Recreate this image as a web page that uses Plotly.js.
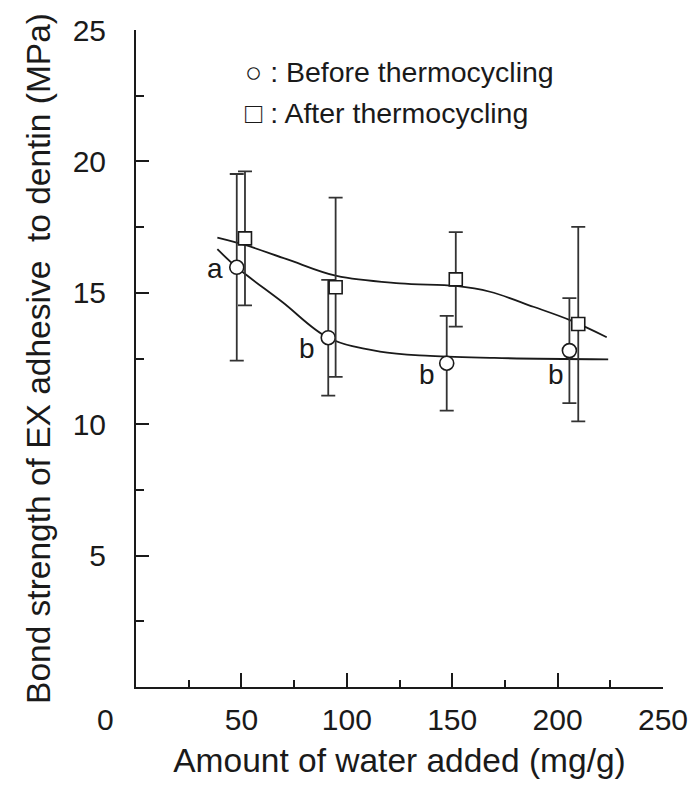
<!DOCTYPE html>
<html>
<head>
<meta charset="utf-8">
<script src="https://cdn.plot.ly/plotly-3.0.1.min.js"></script>
<style>html,body{margin:0;padding:0;background:#fff;}#chart{width:696px;height:785px;}</style>
</head>
<body>
<div id="chart"></div>
<script>
// Measured points (mean ± SD)
const beforeX = [47.8, 91.2, 147.4, 205.6];
const beforeY = [15.97, 13.29, 12.32, 12.80];
const beforeErr = [3.55, 2.2, 1.8, 2.0];

const afterX = [51.7, 94.7, 151.7, 209.8];
const afterY = [17.07, 15.21, 15.51, 13.81];
const afterErr = [2.55, 3.41, 1.8, 3.7];

// Fitted curves
const beforeFitX = [38.6, 47.8, 69.4, 91.2, 115.7, 139.5, 170, 224];
const beforeFitY = [16.66, 15.97, 14.65, 13.29, 12.76, 12.6, 12.52, 12.47];
const afterFitX = [38.6, 51.7, 71.5, 95.2, 125.2, 151.7, 167.9, 188.5, 205.9, 223.3];
const afterFitY = [17.1, 16.82, 16.28, 15.64, 15.36, 15.26, 15.04, 14.47, 13.96, 13.31];

// Significance letters
const letterText = ['a', 'b', 'b', 'b'];
const letterX = [37.5, 81, 137.9, 199.2];
const letterY = [15.93, 12.89, 11.91, 11.91];

const xTicks = [50, 100, 150, 200, 250];
const yTicks = [5, 10, 15, 20, 25];

const legendLabels = ['\u25CB : Before thermocycling', '\u25A1 : After thermocycling'];

const ink = '#1a1a1a';
const fontFam = '"Liberation Sans", Arial, sans-serif';

const traces = [
  {x: beforeFitX, y: beforeFitY, mode: 'lines', line: {shape: 'spline', color: ink, width: 1.8}, hoverinfo: 'skip', showlegend: false},
  {x: afterFitX, y: afterFitY, mode: 'lines', line: {shape: 'spline', color: ink, width: 1.8}, hoverinfo: 'skip', showlegend: false},
  {x: beforeX, y: beforeY, mode: 'markers', name: 'Before thermocycling',
   error_y: {type: 'data', array: beforeErr, visible: true, color: '#333', thickness: 1.8, width: 7},
   marker: {symbol: 'circle', size: 14, color: '#fff', line: {color: ink, width: 1.6}}, showlegend: false},
  {x: afterX, y: afterY, mode: 'markers', name: 'After thermocycling',
   error_y: {type: 'data', array: afterErr, visible: true, color: '#333', thickness: 1.8, width: 7},
   marker: {symbol: 'square', size: 13, color: '#fff', line: {color: ink, width: 1.6}}, showlegend: false}
];

const annotations = letterText.map((t, i) => ({
  x: letterX[i], y: letterY[i], xref: 'x', yref: 'y', text: t, showarrow: false,
  font: {family: fontFam, size: 28, color: ink}, xanchor: 'center', yanchor: 'middle'
}));
annotations.push({x: 0.203, y: 0.936, xref: 'paper', yref: 'paper', text: legendLabels[0], showarrow: false,
  xanchor: 'left', yanchor: 'middle', font: {family: fontFam, size: 28.5, color: ink}});
annotations.push({x: 0.203, y: 0.8737, xref: 'paper', yref: 'paper', text: legendLabels[1], showarrow: false,
  xanchor: 'left', yanchor: 'middle', font: {family: fontFam, size: 28.5, color: ink}});
annotations.push({x: -0.0588, y: -0.0502, xref: 'paper', yref: 'paper', text: '0', showarrow: false,
  xanchor: 'center', yanchor: 'middle', font: {family: fontFam, size: 30, color: ink}});

const layout = {
  width: 696, height: 785,
  margin: {l: 136, r: 33, t: 30, b: 98},
  paper_bgcolor: '#fff', plot_bgcolor: '#fff',
  showlegend: false,
  font: {family: fontFam, color: ink},
  xaxis: {
    range: [0, 250], showgrid: false, zeroline: false,
    showline: true, linecolor: ink, linewidth: 2,
    tickmode: 'array', tickvals: xTicks, ticktext: xTicks.map(String),
    ticks: 'inside', ticklen: 14, tickwidth: 2, tickcolor: ink,
    minor: {dtick: 25, tick0: 0, ticks: 'inside', ticklen: 7, tickwidth: 2, tickcolor: ink},
    tickfont: {family: fontFam, size: 30, color: ink},
    ticklabelstandoff: 5,
    title: {text: 'Amount of water added (mg/g)', font: {family: fontFam, size: 33.5, color: ink}, standoff: 14}
  },
  yaxis: {
    range: [0, 25], showgrid: false, zeroline: false,
    showline: true, linecolor: ink, linewidth: 2,
    tickmode: 'array', tickvals: yTicks, ticktext: yTicks.map(String),
    ticks: 'inside', ticklen: 13, tickwidth: 2, tickcolor: ink,
    minor: {dtick: 2.5, tick0: 0, ticks: 'inside', ticklen: 8, tickwidth: 2, tickcolor: ink},
    tickfont: {family: fontFam, size: 30, color: ink},
    ticklabelstandoff: 22,
    title: {text: 'Bond strength of EX adhesive&nbsp; to dentin (MPa)', font: {family: fontFam, size: 33.5, color: ink}, standoff: 12}
  },
  annotations: annotations
};

Plotly.newPlot('chart', traces, layout, {displayModeBar: false, staticPlot: true});
</script>
</body>
</html>
